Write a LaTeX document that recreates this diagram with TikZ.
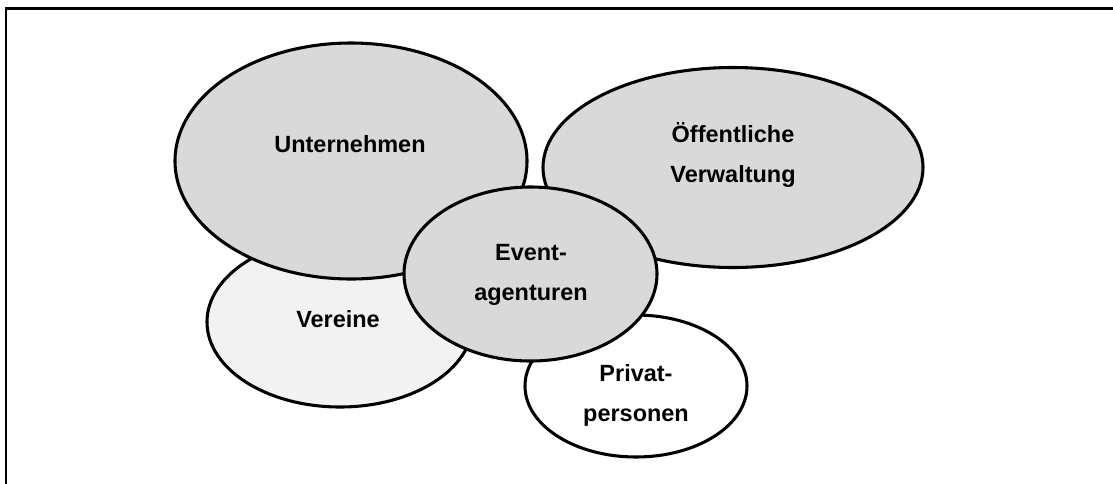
\documentclass[tikz,border=0pt]{standalone}
\usepackage{fontspec}
\setmainfont{Liberation Sans}
\usetikzlibrary{shapes.geometric}
\definecolor{darkfill}{HTML}{D9D9D9}
\definecolor{lightfill}{HTML}{F2F2F2}
\tikzset{
  blob/.style={ellipse, draw=black, line width=2.3pt, inner sep=0pt},
  lbl/.style={font=\bfseries\fontsize{17.6}{30}\selectfont, align=center, inner sep=0pt, anchor=base},
  frameline/.style={line width=1.6pt}
}
\begin{document}
\begin{tikzpicture}[x=0.75pt,y=-0.75pt]
\useasboundingbox (0,0) rectangle (1113,483);
\clip (0,0) rectangle (1113,483);
\coordinate (fr1) at (1130,8.5);
\coordinate (fr2) at (6,8.5);
\coordinate (fr3) at (6,500);
\draw[frameline] (fr1) -- (fr2) -- (fr3);
% ellipses
\node[blob, fill=lightfill, minimum width=199.5pt, minimum height=127.5pt] (ver) at (340,322) {};
\node[blob, fill=white, minimum width=166.5pt, minimum height=106.5pt] (pri) at (636,386) {};
\node[blob, fill=darkfill, minimum width=264pt, minimum height=177pt] (unt) at (351,161) {};
\node[blob, fill=darkfill, minimum width=285pt, minimum height=150pt] (oef) at (733,167.5) {};
\node[blob, fill=darkfill, minimum width=189.75pt, minimum height=130.5pt] (eve) at (530.5,274) {};
% labels (base = baseline of last line)
\node[lbl] (tunt) at (350,152) {Unternehmen};
\node[lbl] (toef) at (733,182) {Öffentliche\\Verwaltung};
\node[lbl] (teve) at (531,300) {Event-\\agenturen};
\node[lbl] (tver) at (338,327) {Vereine};
\node[lbl] (tpri) at (636,421) {Privat-\\personen};
\end{tikzpicture}
\end{document}
